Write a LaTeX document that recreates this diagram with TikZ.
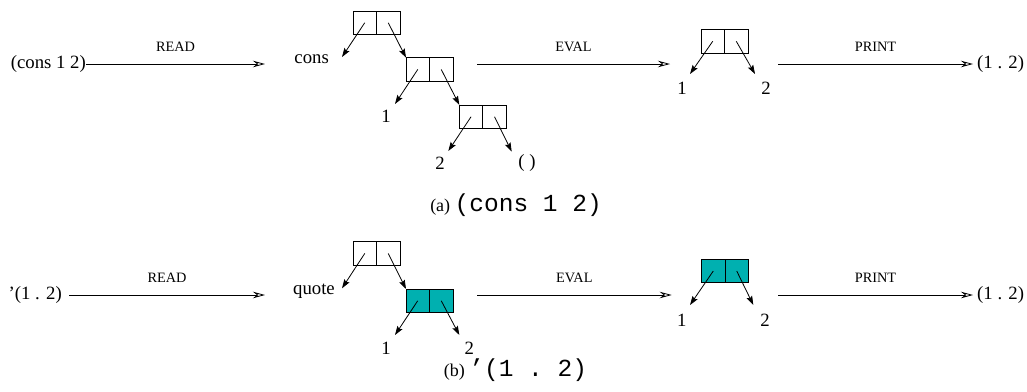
\documentclass[tikz,border=0pt]{standalone}
\usepackage{fontspec}
\setmainfont{Liberation Serif}
\setmonofont{Liberation Mono}
\usetikzlibrary{arrows.meta,positioning}
\definecolor{conscyan}{RGB}{0,176,176}
\tikzset{
  half/.style={draw,line width=0.8pt,minimum width=23.5pt,minimum height=23.5pt,
    inner sep=0pt,outer sep=0pt},
  ptr/.style={line width=0.8pt,-{Stealth[length=9pt,width=6pt,inset=1.5pt]}},
  flow/.style={line width=0.8pt,-{Stealth[open,length=12pt,width=6.5pt,inset=4pt]}},
  lbl/.style={font=\fontsize{18.75}{20}\selectfont,inner sep=0pt},
  tag/.style={font=\fontsize{14.3}{16}\selectfont,inner sep=0pt,above=12pt,midway}
}
% one cons cell: car and cdr halves
\newcommand{\conscell}[4]{%
  \node[half,fill=#4,anchor=north west] (#1car) at (#2,#3) {};
  \node[half,fill=#4,right=0pt of #1car] (#1cdr) {};
}
\begin{document}
\begin{tikzpicture}[x=1pt,y=-1pt]
\useasboundingbox (0,0) rectangle (1027,391);
% (a) (cons 1 2)
\node[lbl,anchor=east] (src1) at (86,64) {(cons 1 2)};
\coordinate (read1) at (265,64);
\draw[flow] (src1.east) -- node[tag]{READ} (read1);
\conscell{a1}{353}{11}{white}
\conscell{a2}{406}{57.7}{white}
\conscell{a3}{459.3}{105}{white}
\coordinate (a1l) at (342,57);
\coordinate (a2l) at (395,104);
\coordinate (a3l) at (448.3,151);
\coordinate (a3r) at (511.7,151.7);
\draw[ptr] (a1car.center) -- (a1l);
\draw[ptr] (a1cdr.center) -- (a2car.north west);
\draw[ptr] (a2car.center) -- (a2l);
\draw[ptr] (a2cdr.center) -- (a3car.north west);
\draw[ptr] (a3car.center) -- (a3l);
\draw[ptr] (a3cdr.center) -- (a3r);
\node[lbl,anchor=base east] (consL) at (329,63.5) {cons};
\node[lbl] (oneA) at (386,116.7) {1};
\node[lbl] (twoA) at (440,163.3) {2};
\node[lbl] (nilA) at (527,163) {( )};
\coordinate (eval1s) at (477,64);
\coordinate (eval1e) at (670,64);
\draw[flow] (eval1s) -- node[tag]{EVAL} (eval1e);
\conscell{r1}{701}{29.5}{white}
\coordinate (r1l) at (690,74);
\coordinate (r1r) at (755,74);
\draw[ptr] (r1car.center) -- (r1l);
\draw[ptr] (r1cdr.center) -- (r1r);
\node[lbl] (oneR1) at (682,88) {1};
\node[lbl] (twoR1) at (766,88) {2};
\coordinate (print1) at (778,64);
\node[lbl,anchor=west] (out1) at (977,64) {(1 . 2)};
\draw[flow] (print1) -- node[tag]{PRINT} ([xshift=-4pt]out1.west);
\node (capa) at (516,205) {\fontsize{18}{20}\selectfont (a) \fontsize{24.5}{26}\ttfamily (cons 1 2)};
% (b) '(1 . 2)
\node[lbl,anchor=east] (src2) at (62,295) {'(1 . 2)};
\coordinate (read2) at (265,295);
\draw[flow] ([xshift=7pt]src2.east) -- node[tag]{READ} (read2);
\conscell{b1}{353}{241.7}{white}
\conscell{b2}{406}{289}{conscyan}
\coordinate (b1l) at (342,288.3);
\coordinate (b2l) at (395,335);
\coordinate (b2r) at (459.3,335);
\draw[ptr] (b1car.center) -- (b1l);
\draw[ptr] (b1cdr.center) -- (b2car.north west);
\draw[ptr] (b2car.center) -- (b2l);
\draw[ptr] (b2cdr.center) -- (b2r);
\node[lbl,anchor=base east] (quoteL) at (335,294) {quote};
\node[lbl] (oneB) at (386,348.3) {1};
\node[lbl] (twoB) at (469.3,348.3) {2};
\coordinate (eval2s) at (477,295);
\coordinate (eval2e) at (671.7,295);
\draw[flow] (eval2s) -- node[tag]{EVAL} (eval2e);
\conscell{r2}{701.5}{259.3}{conscyan}
\coordinate (r2l) at (690,305);
\coordinate (r2r) at (753.3,305);
\draw[ptr] (r2car.center) -- (r2l);
\draw[ptr] (r2cdr.center) -- (r2r);
\node[lbl] (oneR2) at (681.7,320) {1};
\node[lbl] (twoR2) at (765,320) {2};
\coordinate (print2) at (778,295);
\node[lbl,anchor=west] (out2) at (977,295) {(1 . 2)};
\draw[flow] (print2) -- node[tag]{PRINT} ([xshift=-4pt]out2.west);
\node (capb) at (515.5,370) {\fontsize{18}{20}\selectfont (b) \fontsize{24.5}{26}\ttfamily ’(1 . 2)};
\end{tikzpicture}
\end{document}
